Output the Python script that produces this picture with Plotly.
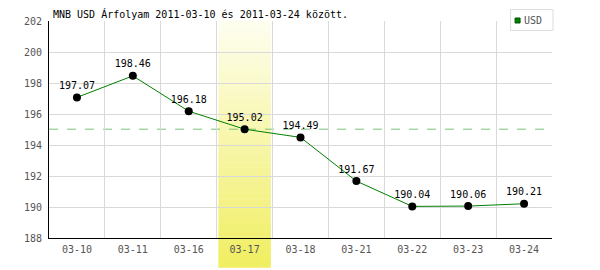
import plotly.graph_objects as go

dates = ["03-10", "03-11", "03-16", "03-17", "03-18", "03-21", "03-22", "03-23", "03-24"]
rates = [197.07, 198.46, 196.18, 195.02, 194.49, 191.67, 190.04, 190.06, 190.21]
highlight = "03-17"
ref_value = 195.02
y_ticks = [188, 190, 192, 194, 196, 198, 200, 202]
title_text = "MNB USD Árfolyam 2011-03-10 és 2011-03-24 között."
series_name = "USD"

MONO = "DejaVu Sans Mono"
W, H = 600, 270
L, R, T, B = 48.5, 47.5, 21, 31.7

fig = go.Figure()
fig.add_trace(go.Scatter(
    x=dates, y=rates, mode="lines+markers+text",
    text=[f"{v:.2f}" for v in rates], textposition="top center",
    textfont=dict(family=MONO, size=10, color="#000"),
    line=dict(color="#008000", width=1),
    marker=dict(color="#000", size=8),
    showlegend=False, cliponaxis=False,
))

hi = dates.index(highlight)
plot_h = H - T - B
plot_w = W - L - R
bottom_paper = (H - B - 268) / plot_h
n = 40
top_c = (254, 254, 240)
bot_c = (240, 238, 96)
shapes = []
for i in range(n):
    f0 = i / n
    f1 = (i + 1) / n
    y0 = 1 - f0 * (1 - bottom_paper)
    y1 = 1 - f1 * (1 - bottom_paper)
    fm = (f0 + f1) / 2
    c = tuple(round(top_c[k] + (bot_c[k] - top_c[k]) * fm) for k in range(3))
    shapes.append(dict(type="rect", xref="x", yref="paper",
                       x0=hi - 0.47, x1=hi + 0.47, y0=y1, y1=y0 + 0.002,
                       fillcolor=f"rgb{c}", line=dict(width=0), layer="below"))
shapes.append(dict(type="line", xref="paper", yref="y", x0=0, x1=1,
                   y0=ref_value, y1=ref_value,
                   line=dict(color="#7cc07c", width=1, dash="dash"), layer="below"))
# legend box then swatch
shapes.append(dict(type="rect", xref="paper", yref="paper",
                   x0=(511 - L) / plot_w, x1=(553.5 - L) / plot_w,
                   y0=(H - B - 30.5) / plot_h, y1=(H - B - 9.5) / plot_h,
                   fillcolor="white", line=dict(color="#dddddd", width=1), layer="above"))
shapes.append(dict(type="rect", xref="paper", yref="paper",
                   x0=(515.5 - L) / plot_w, x1=(520.5 - L) / plot_w,
                   y0=(H - B - 23) / plot_h, y1=(H - B - 18) / plot_h,
                   fillcolor="#008000", line=dict(color="#005000", width=1), layer="above"))

fig.update_layout(
    width=W, height=H,
    margin=dict(l=L, r=R, t=T, b=B, pad=0),
    paper_bgcolor="white", plot_bgcolor="white",
    shapes=shapes,
    title=dict(text=title_text, x=53 / W, xanchor="left", xref="container",
               y=1 - 14 / H, yanchor="middle", yref="container",
               font=dict(family=MONO, size=10, color="#000")),
    xaxis=dict(type="category", range=[-0.5, len(dates) - 0.5],
               tickson="boundaries", showgrid=True, gridcolor="#d9d9d9", gridwidth=1,
               showline=True, linecolor="#000", linewidth=1, ticks="",
               ticklabelstandoff=2,
               tickfont=dict(family=MONO, size=10, color="#555"), fixedrange=True),
    yaxis=dict(range=[188, 202], tickvals=y_ticks, showgrid=True, gridcolor="#d9d9d9",
               gridwidth=1, showline=True, linecolor="#000", linewidth=1, ticks="",
               zeroline=False, ticklabelstandoff=4,
               tickfont=dict(family=MONO, size=10, color="#555")),
    annotations=[dict(text=series_name, xref="paper", yref="paper",
                      x=(522 - L) / plot_w, xanchor="left",
                      y=(H - B - 20.5) / plot_h, yanchor="middle", showarrow=False,
                      font=dict(family=MONO, size=10, color="#555"))],
)

fig.write_html("out.html")
